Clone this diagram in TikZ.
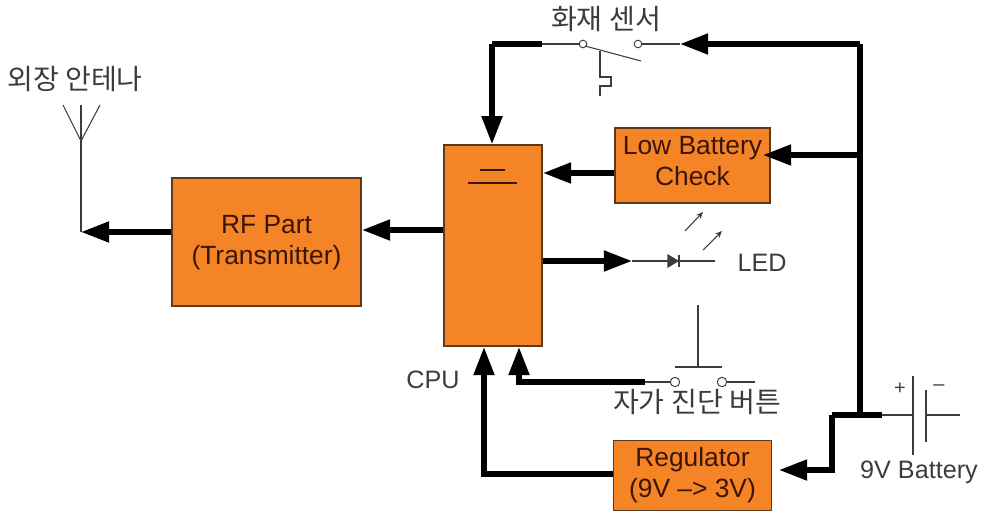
\documentclass[tikz,border=0pt]{standalone}
\usepackage{fontspec}
\setmainfont{Liberation Sans}
\newfontfamily\cjk{Noto Sans CJK KR}
\usetikzlibrary{arrows.meta}
\definecolor{blockfill}{HTML}{F58426}
\definecolor{blockline}{HTML}{5A3A1E}
\definecolor{blocktext}{HTML}{3A1508}
\definecolor{thinline}{HTML}{3C3C3C}
\tikzset{
  block/.style={draw=blockline,line width=1.3pt,fill=blockfill,inner sep=0pt},
  blocklabel/.style={text=blocktext,inner sep=0pt,align=center,font=\fontsize{22.5}{27}\selectfont},
  label/.style={inner sep=0pt,text=thinline,font=\fontsize{21.5}{26}\selectfont},
  hangul/.style={inner sep=0pt,text=thinline,font=\cjk\fontsize{24}{28}\selectfont},
  contact/.style={circle,draw=thinline,fill=white,line width=0.8pt,inner sep=0pt},
  bus/.style={line width=4.5pt},
  feed/.style={line width=4.5pt,-{Triangle[length=24pt,width=17pt]}},
  thin wire/.style={draw=thinline,line width=0.9pt}
}
\begin{document}
\begin{tikzpicture}[x=0.03cm,y=-0.03cm]
      \useasboundingbox (0,0) rectangle (986,512);
      \draw
        (266.5,242) node[block,minimum width=161pt,minimum height=109pt] (rf){}
        (493,245.5) node[block,minimum width=83.5pt,minimum height=171.5pt] (cpu){}
        (692.5,165.5) node[block,minimum width=132pt,minimum height=64pt] (lowbat){}
        (692.5,475.5) node[block,minimum width=134.5pt,minimum height=59.5pt] (reg){}
        (266.5,242.5) node[blocklabel] (rftext){RF Part\\(Transmitter)}
        (692.5,161) node[blocklabel] (lowbattext){Low Battery\\Check}
        (692.5,475) node[blocklabel] (regtext){Regulator\\(9V --> 3V)}
        (75,79) node[hangul] (antlabel){외장 안테나}
        (606,19) node[hangul] (firelabel){화재 센서}
        (697,402) node[hangul] (testlabel){자가 진단 버튼}
        (433,380) node[label] (cpulabel){CPU}
        (762,263) node[label] (ledlabel){LED}
        (919,472) node[label] (batlabel){9V Battery}
        (900,389) node[inner sep=0pt,text=thinline,font=\fontsize{17}{17}\selectfont] (plus){+}
        (939,388) node[inner sep=0pt,text=thinline,font=\fontsize{17}{17}\selectfont] (minus){--}
        (583,44) node[contact,minimum size=6.5pt] (firea){}
        (638,44) node[contact,minimum size=6.5pt] (fireb){}
        (675,382) node[contact,minimum size=8pt] (testa){}
        (722,382) node[contact,minimum size=8pt] (testb){};
      \draw
        (81,232) coordinate (antfoot)
        (81,141) coordinate (anttop)
        (63,105) coordinate (antl)
        (81,105) coordinate (antm)
        (100,105) coordinate (antr)
        (492,44) coordinate (firecorner)
        (542,44) coordinate (firewire)
        (680,44) coordinate (firefeed)
        (860,44) coordinate (railtop)
        (860,155) coordinate (railbat)
        (860,415) coordinate (railfoot)
        (882,415) coordinate (batplus)
        (832,415) coordinate (regcorner)
        (913,415) coordinate (plateplus)
        (926,415) coordinate (plateminus)
        (960,415) coordinate (batend)
        (632,261) coordinate (ledfeed)
        (715,261) coordinate (ledend)
        (645,382) coordinate (testwire)
        (755,382) coordinate (testend);
      % thick wires
      \begin{scope}[bus]
        \draw (firewire) -- (firecorner);
        \draw (railtop) -- (railfoot);
        \draw (batplus) -- (regcorner);
      \end{scope}
      \begin{scope}[feed]
        \draw (rf.west |- antfoot) -- (antfoot);
        \draw (firecorner) -- (firecorner |- cpu.north);
        \draw (railtop) -- (firefeed);
        \draw (railbat) -- (763,155);
        \draw (lowbat.west |- 0,173) -- (543,173);
        \draw (cpu.west |- 0,230) -- (362,230);
        \draw (cpu.east |- ledfeed) -- (ledfeed);
        \draw (testwire) -| (519,347);
        \draw (reg.west |- 0,474) -| (484,347);
        \draw (regcorner) |- (779,470);
      \end{scope}
      % thin wires
      \begin{scope}[thin wire]
        \draw (antfoot) -- (anttop);
        \draw (anttop) -- (antl);
        \draw (anttop) -- (antm);
        \draw (anttop) -- (antr);
        \draw (firewire) -- (firea);
        \draw (fireb) -- (firefeed);
        \draw (585,46) -- (641,61);
        \draw (600,51) -- (600,77) -- (611,77) -- (611,86) -- (600,86) -- (600,96);
        \draw (ledfeed) -- (ledend);
        \draw[fill=thinline] (668,255) -- (678,261) -- (668,267) -- cycle;
        \draw (679,255) -- (679,267);
        \draw[-{Stealth[length=6pt,width=5pt]}] (685,231) -- (703,212);
        \draw[-{Stealth[length=6pt,width=5pt]}] (703,250) -- (722,231);
        \draw (698,305) -- (698,367);
        \draw (675,367) -- (722,367);
        \draw (testwire) -- (testa);
        \draw (testb) -- (testend);
        \draw (batplus) -- (plateplus);
        \draw (plateminus) -- (batend);
        \draw (913,376) -- (913,455);
        \draw (926,390) -- (926,442);
      \end{scope}
      \draw[draw=blocktext,line width=0.9pt] (480,170) -- (505,170);
      \draw[draw=blocktext,line width=0.9pt] (468,183) -- (517,183);
    \end{tikzpicture}
\end{document}
